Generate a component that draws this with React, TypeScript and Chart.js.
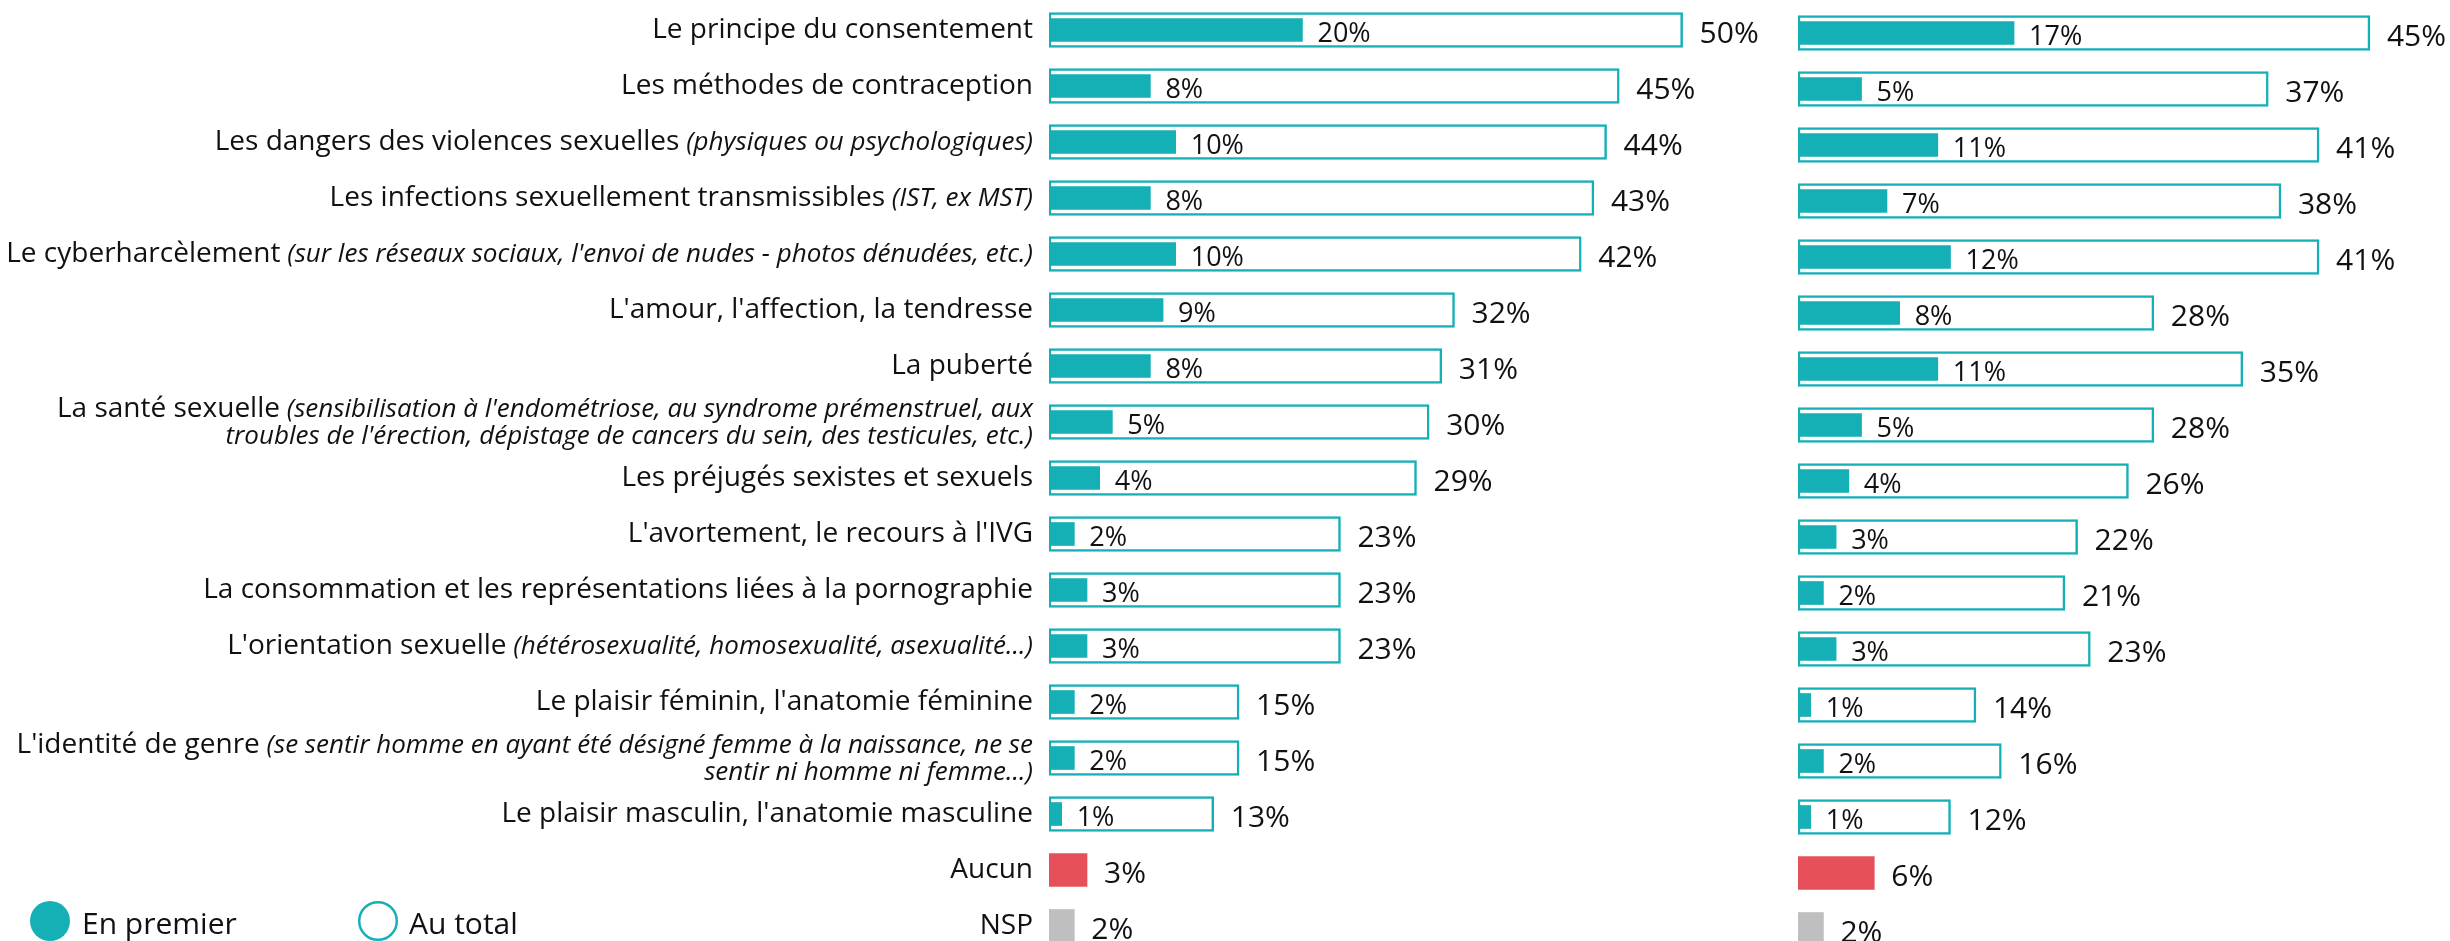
import React, { useEffect, useRef } from "react";
import { Chart, registerables } from "chart.js";

Chart.register(...registerables);

const categories = [
  "Le principe du consentement",
  "Les méthodes de contraception",
  "Les dangers des violences sexuelles",
  "Les infections sexuellement transmissibles",
  "Le cyberharcèlement",
  "L'amour, l'affection, la tendresse",
  "La puberté",
  "La santé sexuelle",
  "Les préjugés sexistes et sexuels",
  "L'avortement, le recours à l'IVG",
  "La consommation et les représentations liées à la pornographie",
  "L'orientation sexuelle",
  "Le plaisir féminin, l'anatomie féminine",
  "L'identité de genre",
  "Le plaisir masculin, l'anatomie masculine",
  "Aucun",
  "NSP",
];

const categoryNotes = [
  "",
  "",
  "(physiques ou psychologiques)",
  "(IST, ex MST)",
  "(sur les réseaux sociaux, l'envoi de nudes - photos dénudées, etc.)",
  "",
  "",
  "(sensibilisation à l'endométriose, au syndrome prémenstruel, aux\ntroubles de l'érection, dépistage de cancers du sein, des testicules, etc.)",
  "",
  "",
  "",
  "(hétérosexualité, homosexualité, asexualité...)",
  "",
  "(se sentir homme en ayant été désigné femme à la naissance, ne se\nsentir ni homme ni femme...)",
  "",
  "",
  "",
];

const leftFirst = [20, 8, 10, 8, 10, 9, 8, 5, 4, 2, 3, 3, 2, 2, 1, null, null];
const leftTotal = [50, 45, 44, 43, 42, 32, 31, 30, 29, 23, 23, 23, 15, 15, 13, null, null];
const leftOther = [null, null, null, null, null, null, null, null, null, null, null, null, null, null, null, 3, 2];

const rightFirst = [17, 5, 11, 7, 12, 8, 11, 5, 4, 3, 2, 3, 1, 2, 1, null, null];
const rightTotal = [45, 37, 41, 38, 41, 28, 35, 28, 26, 22, 21, 23, 14, 16, 12, null, null];
const rightOther = [null, null, null, null, null, null, null, null, null, null, null, null, null, null, null, 6, 2];

const legendLabels = ["En premier", "Au total"];

const TEAL = "#15B0B6";
const RED = "#E5505A";
const GREY = "#BFBFBF";
const FONT = "'Open Sans', 'Noto Sans', sans-serif";
const TEXT = "#111111";

const valueLabelsPlugin = {
  id: "valueLabels",
  afterDatasetsDraw(chart: any) {
    const ctx = chart.ctx;
    ctx.save();
    ctx.fillStyle = TEXT;
    ctx.textAlign = "left";
    ctx.textBaseline = "alphabetic";
    chart.data.datasets.forEach((ds: any, di: number) => {
      const meta = chart.getDatasetMeta(di);
      meta.data.forEach((el: any, i: number) => {
        const v = ds.data[i];
        if (v == null) return;
        if (ds.kind === "first") {
          ctx.font = `27px ${FONT}`;
          ctx.fillText(`${v}%`, el.x + 15, el.y + 12);
        } else {
          ctx.font = `30px ${FONT}`;
          ctx.fillText(`${v}%`, el.x + 17, el.y + 13);
        }
      });
    });
    ctx.restore();
  },
};

const categoryLabelsPlugin = {
  id: "categoryLabels",
  afterDraw(chart: any) {
    const ctx = chart.ctx;
    const yScale = chart.scales.y;
    const right = 1033;
    const normalFont = `28px ${FONT}`;
    const italicFont = `italic 26px ${FONT}`;
    ctx.save();
    ctx.fillStyle = TEXT;
    ctx.textBaseline = "alphabetic";
    ctx.textAlign = "left";
    categories.forEach((cat, i) => {
      const cy = yScale.getPixelForValue(i);
      const noteLines = categoryNotes[i] ? categoryNotes[i].split("\n") : [];
      const lines: { text: string; italic: boolean }[][] = [];
      const first: { text: string; italic: boolean }[] = [{ text: cat, italic: false }];
      if (noteLines.length > 0) first.push({ text: " " + noteLines[0], italic: true });
      lines.push(first);
      for (let k = 1; k < noteLines.length; k++) lines.push([{ text: noteLines[k], italic: true }]);
      const baselines = lines.length === 1 ? [cy + 8] : [cy - 5, cy + 22];
      lines.forEach((segs, li) => {
        let total = 0;
        const widths = segs.map((s) => {
          ctx.font = s.italic ? italicFont : normalFont;
          const w = ctx.measureText(s.text).width;
          total += w;
          return w;
        });
        let x = right - total;
        segs.forEach((s, si) => {
          ctx.font = s.italic ? italicFont : normalFont;
          ctx.fillText(s.text, x, baselines[li]);
          x += widths[si];
        });
      });
    });

    // legend
    const ly = 921;
    ctx.beginPath();
    ctx.arc(50, ly, 20, 0, Math.PI * 2);
    ctx.fillStyle = TEAL;
    ctx.fill();
    ctx.beginPath();
    ctx.arc(378, ly, 18.8, 0, Math.PI * 2);
    ctx.lineWidth = 2.5;
    ctx.strokeStyle = TEAL;
    ctx.stroke();
    ctx.fillStyle = TEXT;
    ctx.font = `30px ${FONT}`;
    ctx.fillText(legendLabels[0], 82, ly + 13);
    ctx.fillText(legendLabels[1], 409, ly + 13);
    ctx.restore();
  },
};

function makeConfig(first: any[], total: any[], other: any[], xMax: number, padding: any, extraPlugins: any[]) {
  return {
    type: "bar" as const,
    data: {
      labels: categories,
      datasets: [
        {
          kind: "first",
          label: legendLabels[0],
          data: first,
          backgroundColor: TEAL,
          borderWidth: 0,
          barThickness: 23,
          grouped: false,
          order: 1,
        },
        {
          kind: "total",
          label: legendLabels[1],
          data: total,
          backgroundColor: "#FFFFFF",
          borderColor: TEAL,
          borderWidth: 2.5,
          borderSkipped: false,
          barThickness: 35,
          grouped: false,
          order: 3,
        },
        {
          kind: "other",
          label: "Autre",
          data: other,
          backgroundColor: [
            ...categories.map((_, i) => (i === categories.length - 2 ? RED : GREY)),
          ],
          borderWidth: 0,
          barThickness: 33,
          grouped: false,
          order: 2,
        },
      ],
    },
    options: {
      indexAxis: "y" as const,
      responsive: false,
      maintainAspectRatio: false,
      animation: false as const,
      layout: { padding },
      plugins: {
        legend: { display: false },
        tooltip: { enabled: false },
      },
      scales: {
        x: { display: false, min: 0, max: xMax },
        y: { display: false, offset: true },
      },
    },
    plugins: [valueLabelsPlugin, ...extraPlugins],
  };
}

export default function App() {
  const leftRef = useRef<HTMLCanvasElement | null>(null);
  const rightRef = useRef<HTMLCanvasElement | null>(null);

  useEffect(() => {
    document.body.style.margin = "0";
    const left = new Chart(
      leftRef.current as HTMLCanvasElement,
      makeConfig(leftFirst, leftTotal, leftOther, 58, { left: 1049, top: 2, right: 0, bottom: 6 }, [categoryLabelsPlugin]) as any
    );
    const right = new Chart(
      rightRef.current as HTMLCanvasElement,
      makeConfig(rightFirst, rightTotal, rightOther, 51.3, { left: 8, top: 5, right: 0, bottom: 3 }, []) as any
    );
    return () => {
      left.destroy();
      right.destroy();
    };
  }, []);

  return (
    <div
      style={{
        position: "fixed",
        left: 0,
        top: 0,
        width: 2450,
        height: 941,
        overflow: "hidden",
        background: "#FFFFFF",
      }}
    >
      <canvas ref={leftRef} width={1784} height={960} style={{ position: "absolute", left: 0, top: 0 }} />
      <canvas ref={rightRef} width={660} height={960} style={{ position: "absolute", left: 1790, top: 0 }} />
    </div>
  );
}
